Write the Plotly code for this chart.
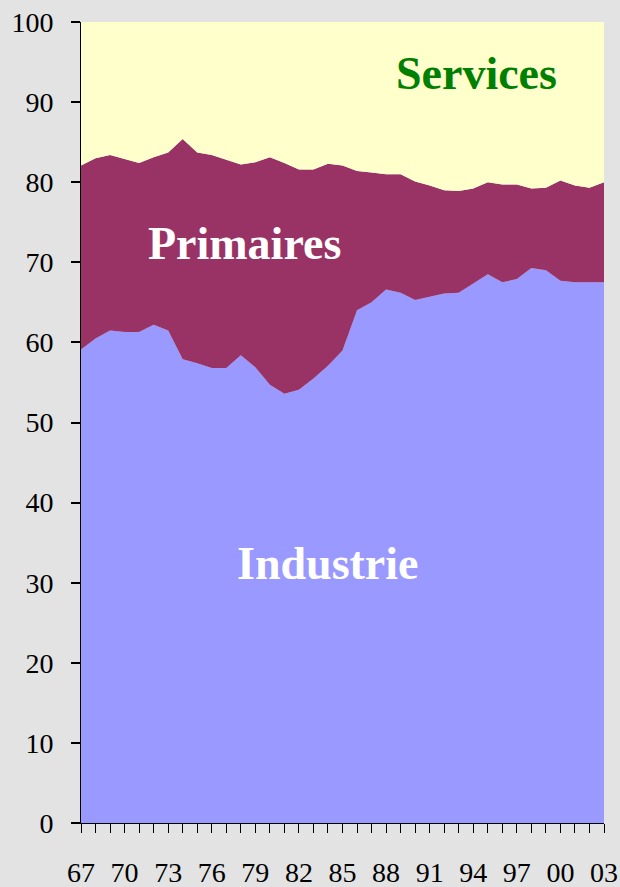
import plotly.graph_objects as go

# Years 1967-2003
years = list(range(1967, 2004))

# Share of Industrie (bottom layer), in %
industrie = [59.1, 60.5, 61.5, 61.3, 61.3, 62.2, 61.5, 57.9, 57.4, 56.8,
             56.8, 58.4, 56.9, 54.7, 53.6, 54.1, 55.5, 57.1, 59.0, 64.0,
             65.0, 66.6, 66.2, 65.3, 65.7, 66.1, 66.2, 67.3, 68.5, 67.5,
             67.9, 69.3, 69.0, 67.7, 67.5, 67.5, 67.5]

# Cumulated Industrie + Primaires (top of the middle layer), in %
cumul = [82.1, 83.0, 83.4, 82.9, 82.4, 83.1, 83.7, 85.4, 83.7, 83.4,
         82.8, 82.2, 82.5, 83.1, 82.4, 81.6, 81.6, 82.3, 82.1, 81.4,
         81.2, 81.0, 81.0, 80.1, 79.6, 79.0, 78.9, 79.2, 80.0, 79.7,
         79.7, 79.2, 79.3, 80.2, 79.6, 79.3, 80.0]

primaires = [round(c - i, 1) for c, i in zip(cumul, industrie)]
services = [round(100 - c, 1) for c in cumul]

y_ticks = list(range(0, 101, 10))
tick_labels = [str(y)[2:] if (y - 1967) % 3 == 0 else "" for y in years]

serif = "Liberation Serif"

fig = go.Figure()

# Stacked areas, bottom to top
for name, values, color in [
    ("Industrie", industrie, "#9999FF"),
    ("Primaires", primaires, "#993366"),
    ("Services", services, "#FFFFCC"),
]:
    fig.add_trace(
        go.Scatter(
            x=years,
            y=values,
            name=name,
            mode="lines",
            stackgroup="one",
            line=dict(width=0, color=color),
            fillcolor=color,
            hoverinfo="skip",
        )
    )

# Series names written inside the areas
for text, x, y, color in [
    ("Services", 1994.2, 93.6, "#008000"),
    ("Primaires", 1978.25, 72.3, "white"),
    ("Industrie", 1983.96, 32.4, "white"),
]:
    fig.add_annotation(
        text=f"<b>{text}</b>",
        x=x,
        y=y,
        xref="x",
        yref="y",
        showarrow=False,
        font=dict(family=serif, size=46, color=color),
    )

axis_style = dict(
    ticks="outside",
    ticklen=9,
    tickcolor="black",
    showline=True,
    linecolor="black",
    linewidth=1,
    showgrid=False,
    zeroline=False,
    automargin=False,
    layer="above traces",
    tickfont=dict(family=serif, size=28, color="black"),
)

fig.update_xaxes(
    range=[1967, 2003],
    tickmode="array",
    tickvals=years,
    ticktext=tick_labels,
    tickwidth=1,
    ticklabelstandoff=15,
    **axis_style,
)
fig.update_yaxes(
    range=[0, 100],
    tickmode="array",
    tickvals=y_ticks,
    tickwidth=1.5,
    ticklabelstandoff=12,
    **axis_style,
)

fig.update_layout(
    width=620,
    height=887,
    margin=dict(l=81, r=16, t=22, b=64),
    font=dict(family=serif, color="black"),
    paper_bgcolor="#E3E3E3",
    plot_bgcolor="#E3E3E3",
    showlegend=False,
)

# Remove the default page margin so the figure fills the window
fig.write_html(
    "out.html",
    config={"displayModeBar": False},
    post_script="document.body.style.margin='0';",
)
